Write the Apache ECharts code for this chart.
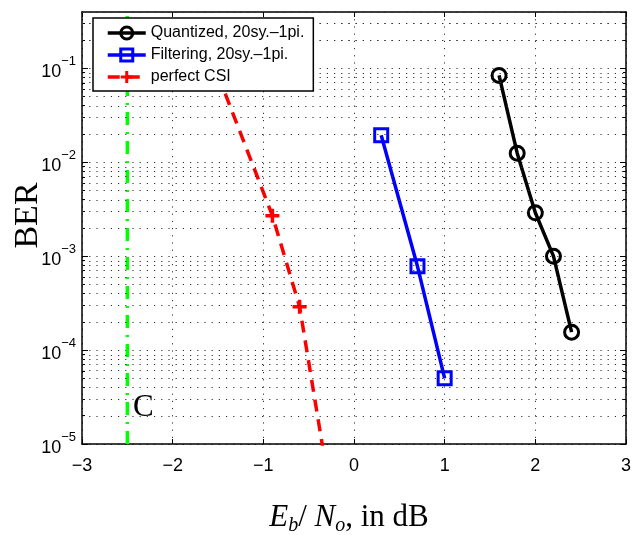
<!DOCTYPE html>
<html>
<head>
<meta charset="utf-8">
<script src="https://cdn.jsdelivr.net/npm/echarts@6/dist/echarts.min.js"></script>
<style>html,body{margin:0;padding:0;background:#fff;}#c{width:639px;height:535px;}</style>
</head>
<body>
<div id="c"></div>
<script>
// ---- data ----
const snrQuant = [1.6, 1.8, 2.0, 2.2, 2.4];
const berQuant = [0.084, 0.0125, 0.0029, 0.001, 0.000155];
const snrFilt = [0.3, 0.7, 1.0];
const berFilt = [0.0194, 0.00078, 0.00005];
const snrCsi = [-1.5, -0.9, -0.6, -0.3];
const berCsi = [0.085, 0.0027, 0.00029, 0.000005];
const snrCap = [-2.5, -2.5];
const berCap = [0.00001, 1];
const xTicks = [-3, -2, -1, 0, 1, 2, 3];
const yDecades = [-5, -4, -3, -2, -1];
const seriesNames = ['Quantized, 20sy.\u20131pi.', 'Filtering, 20sy.\u20131pi.', 'perfect CSI'];

const toPts = (xs, ys) => xs.map((x, i) => [x, Math.log10(ys[i])]);
const minorVals = [];
yDecades.forEach(d => { for (let k = 2; k <= 9; k++) minorVals.push(d + Math.log10(k)); });
[2, 3, 4].forEach(k => minorVals.push(-1 + Math.log10(k)));
const minorUniq = minorVals.filter(v => v <= -0.39);

const sans = 'Liberation Sans, Arial, Helvetica, sans-serif';
const serif = 'Liberation Serif, Times New Roman, serif';
const dotted = { color: '#333', width: 1, type: [1.2, 6] };
const minus = v => (v < 0 ? '\u2212' + (-v) : '' + v);

const chart = echarts.init(document.getElementById('c'), null, { renderer: 'canvas' });
const commonY = { type: 'value', min: -5, max: -0.4, interval: 1 };
chart.setOption({
  animation: false,
  backgroundColor: '#fff',
  grid: { left: 82, right: 13, top: 12, bottom: 91, containLabel: false, outerBoundsMode: 'none' },
  legend: {
    data: seriesNames, z: 20,
    orient: 'vertical', left: 93, top: 18,
    padding: [7, 9, 6, 13], itemGap: 6, itemWidth: 38, itemHeight: 15,
    backgroundColor: '#fff', borderColor: '#000', borderWidth: 1.5, borderRadius: 0,
    textStyle: { fontFamily: sans, fontSize: 16, color: '#000' },
    lineStyle: { width: 3.5 },
    itemStyle: { borderWidth: 3 },
    selectedMode: false
  },
  xAxis: [{
    type: 'value', min: -3, max: 3, interval: 1, position: 'bottom',
    axisLine: { onZero: false, lineStyle: { color: '#000', width: 1.5 } },
    axisTick: { inside: true, length: 5, lineStyle: { color: '#000' } },
    axisLabel: { formatter: minus, fontFamily: sans, fontSize: 18, color: '#000', margin: 13 },
    splitLine: { show: true, lineStyle: dotted },
    name: '{i|E}{s|b}{n|/ }{i|N}{s|o}{n|, in dB}',
    nameLocation: 'middle', nameGap: 58, nameMoveOverlap: false,
    nameTextStyle: {
      padding: [0, 10, 0, 0],
      rich: {
        i: { fontFamily: serif, fontStyle: 'italic', fontSize: 31, color: '#000', verticalAlign: 'top', lineHeight: 34 },
        n: { fontFamily: serif, fontSize: 31, color: '#000', verticalAlign: 'top', lineHeight: 34 },
        s: { fontFamily: serif, fontStyle: 'italic', fontSize: 20, color: '#000', verticalAlign: 'bottom', lineHeight: 20, padding: [14, 0, 0, 0] }
      }
    }
  }, {
    type: 'value', min: -3, max: 3, interval: 1, position: 'top',
    axisLine: { onZero: false, lineStyle: { color: '#000', width: 1.5 } },
    axisTick: { inside: true, length: 5, lineStyle: { color: '#000' } },
    axisLabel: { show: false }, splitLine: { show: false }
  }],
  yAxis: [Object.assign({}, commonY, {
    position: 'left',
    axisLine: { show: true, onZero: false, lineStyle: { color: '#000', width: 1.5 } },
    axisTick: { show: true, inside: true, length: 6, lineStyle: { color: '#000' } },
    axisLabel: {
      formatter: v => (Number.isInteger(v) ? '{b|10}{s|\u2212' + (-v) + '}' : ''), margin: 6,
      showMaxLabel: false,
      rich: {
        b: { fontFamily: sans, fontSize: 18, color: '#000', lineHeight: 26, verticalAlign: 'bottom' },
        s: { fontFamily: sans, fontSize: 13, color: '#000', lineHeight: 13, verticalAlign: 'top' }
      }
    },
    splitLine: { show: true, lineStyle: dotted },
    name: 'BER', nameLocation: 'middle', nameGap: 37, nameMoveOverlap: false,
    nameTextStyle: { fontFamily: serif, fontSize: 34, color: '#000', padding: [0, 0, 0, 25] }
  }), Object.assign({}, commonY, {
    position: 'right',
    axisLine: { show: true, onZero: false, lineStyle: { color: '#000', width: 1.5 } },
    axisTick: { show: true, inside: true, length: 6, lineStyle: { color: '#000' } },
    axisLabel: { show: false }, splitLine: { show: false }
  }), Object.assign({}, commonY, {
    position: 'left',
    axisLine: { show: false, onZero: false },
    axisTick: { show: true, inside: true, length: 3, customValues: minorUniq, lineStyle: { color: '#000' } },
    axisLabel: { show: false }, splitLine: { show: false }
  }), Object.assign({}, commonY, {
    position: 'right',
    axisLine: { show: false, onZero: false },
    axisTick: { show: true, inside: true, length: 3, customValues: minorUniq, lineStyle: { color: '#000' } },
    axisLabel: { show: false }, splitLine: { show: false }
  })],
  graphic: [{
    type: 'text', left: 133, top: 392, silent: true,
    style: { text: 'C', fontFamily: serif, fontSize: 31, fill: '#000' }
  }],
  series: [{
    name: 'minor-grid', type: 'line', data: [], silent: true,
    markLine: {
      silent: true, symbol: 'none', label: { show: false },
      lineStyle: dotted, animation: false,
      data: minorUniq.map(v => ({ yAxis: v }))
    }
  }, {
    name: 'capacity', type: 'line', data: toPts(snrCap, berCap), showSymbol: false, z: 2,
    lineStyle: { color: '#00ff00', width: 3.5, type: [13, 7, 2, 7] }
  }, {
    name: seriesNames[0], type: 'line', data: toPts(snrQuant, berQuant), z: 3,
    symbol: 'circle', symbolSize: 14,
    lineStyle: { color: '#000', width: 3.5 },
    itemStyle: { color: 'rgba(0,0,0,0)', borderColor: '#000', borderWidth: 3 }
  }, {
    name: seriesNames[1], type: 'line', data: toPts(snrFilt, berFilt), z: 3,
    symbol: 'rect', symbolSize: 13,
    lineStyle: { color: '#0000ff', width: 3.5 },
    itemStyle: { color: 'rgba(0,0,0,0)', borderColor: '#0000ff', borderWidth: 3 }
  }, {
    name: seriesNames[2], type: 'line', data: toPts(snrCsi, berCsi), z: 3,
    symbol: 'path://M0,5L10,5M5,0L5,10', symbolSize: 14,
    lineStyle: { color: '#ff0000', width: 3.5, type: [12, 8] },
    itemStyle: { color: 'rgba(0,0,0,0)', borderColor: '#ff0000', borderWidth: 3.5 }
  }]
});
</script>
</body>
</html>
